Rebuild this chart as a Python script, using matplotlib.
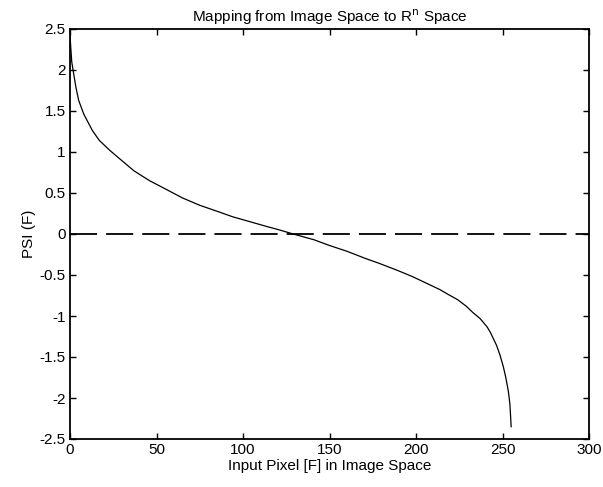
import matplotlib
matplotlib.use("Agg")
import matplotlib.pyplot as plt

# Data
pixel_F = [0, 1, 2, 3.5, 5, 8, 13, 17, 23, 28, 37, 46, 56, 65, 75, 86, 94,
           104, 114, 121, 129, 141, 150, 160, 171, 179, 190, 198, 205, 210,
           214, 218, 224, 229, 233, 237, 241, 243, 246.6, 248.6, 250.5,
           252.0, 253.4, 254.3, 255]
psi_F = [2.42, 2.1, 1.97, 1.78, 1.63, 1.46, 1.26, 1.14, 1.02, 0.93, 0.77,
         0.65, 0.54, 0.44, 0.35, 0.27, 0.21, 0.15, 0.09, 0.05, 0.0, -0.07,
         -0.14, -0.21, -0.30, -0.36, -0.45, -0.52, -0.59, -0.64, -0.68,
         -0.73, -0.80, -0.88, -0.96, -1.03, -1.13, -1.20, -1.36, -1.48,
         -1.62, -1.76, -1.92, -2.08, -2.35]
zero_x = [0, 300]
zero_y = [0, 0]
x_ticks = [0, 50, 100, 150, 200, 250, 300]
y_ticks = [-2.5, -2, -1.5, -1, -0.5, 0, 0.5, 1, 1.5, 2, 2.5]
y_ticklabels = ["-2.5", "-2", "-1.5", "-1", "-0.5", "0", "0.5", "1", "1.5", "2", "2.5"]

plt.rcParams['font.family'] = ['Liberation Sans', 'DejaVu Sans']

fig = plt.figure(figsize=(6.03, 4.87), dpi=100)
ax = fig.add_axes([70/603, 48/487, 519/603, 410/487])

ax.plot(pixel_F, psi_F, color='black', linewidth=0.9)
ax.plot(zero_x, zero_y, color='black', linewidth=1.3, dashes=(15, 5))

ax.set_xlim(0, 300)
ax.set_ylim(-2.5, 2.5)
ax.set_xticks(x_ticks)
ax.set_yticks(y_ticks)
ax.set_yticklabels(y_ticklabels)
ax.tick_params(direction='in', top=True, right=True, length=4, width=1,
               labelsize=11, pad=3)
for s in ax.spines.values():
    s.set_linewidth(1.3)

ax.set_title("Mapping from Image Space to R$^{\\mathrm{n}}$ Space", fontsize=11, pad=5)
ax.set_xlabel("Input Pixel [F] in Image Space", fontsize=11, labelpad=1)
ax.set_ylabel("PSI (F)", fontsize=11, labelpad=3)

fig.savefig("out.png", dpi=100)
